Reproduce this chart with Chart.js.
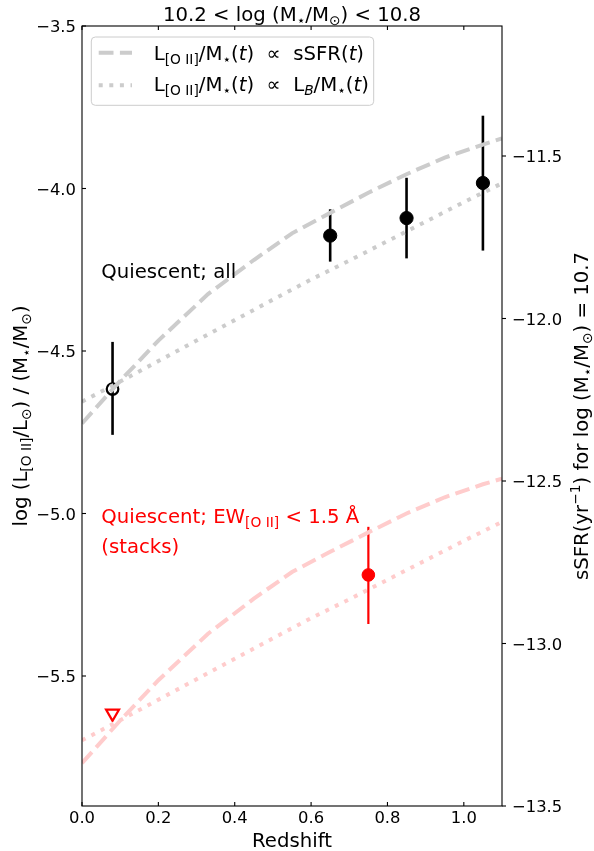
<!doctype html>
<html lang="en">
<head>
<meta charset="utf-8" />
<script src="https://cdn.jsdelivr.net/npm/chart.js@4/dist/chart.umd.min.js"></script>
<style>
  html, body { margin: 0; padding: 0; background: #ffffff; }
  canvas { display: block; }
</style>
</head>
<body>
<canvas id="chart" width="594" height="851"></canvas>
<script>
// --- data ---
const lowZPoint = [0.08];
const lowZValue = [-4.617];
const lowZLower = [-4.758];
const lowZUpper = [-4.472];

const allZ = [0.65, 0.85, 1.05];
const allValue = [-4.145, -4.091, -3.983];
const allLower = [-4.225, -4.215, -4.191];
const allUpper = [-4.064, -3.967, -3.776];

const stackZ = [0.75];
const stackValue = [-5.189];
const stackLower = [-5.340];
const stackUpper = [-5.041];

const limitZ = [0.08];
const limitValue = [-5.615];

const modelZ = [0, 0.1, 0.2, 0.33, 0.45, 0.55, 0.65, 0.75, 0.85, 0.95, 1.05, 1.1];
const ssfrAll = [-4.723, -4.592, -4.468, -4.325, -4.220, -4.138, -4.075, -4.013, -3.956, -3.905, -3.865, -3.846];
const ssfrStacks = [-5.768, -5.637, -5.513, -5.370, -5.262, -5.180, -5.118, -5.058, -5.000, -4.950, -4.910, -4.893];

const lbZ = [0, 0.1, 0.2, 0.3, 0.4, 0.5, 0.6, 0.7, 0.8, 0.9, 1.0, 1.1];
const lbAll = [-4.656, -4.594, -4.531, -4.468, -4.405, -4.342, -4.280, -4.222, -4.162, -4.102, -4.042, -3.984];
const lbStacks = [-5.698, -5.636, -5.573, -5.510, -5.447, -5.384, -5.322, -5.264, -5.204, -5.144, -5.084, -5.026];

const xTickStep = 0.2;
const yTickStep = 0.5;

const FONT = '"DejaVu Sans", sans-serif';
const GREY = 'rgb(204,204,204)';
const PINK = 'rgb(255,204,204)';
const DASH = [14.8, 6.4];
const DOT = [4, 6.6];

const pts = (xs, ys) => xs.map((x, i) => ({ x, y: ys[i] }));
const fmt = v => v.toFixed(1).replace('-', '\u2212');

// draws a list of text runs with sub/superscripts
function drawRich(ctx, parts, x, y, size, align, color) {
  const items = parts.map(p => {
    const s = (p.sub || p.sup) ? size * 0.7 : size;
    const font = (p.it ? 'italic ' : '') + s + 'px ' + FONT;
    ctx.font = font;
    return { t: p.t, font, w: ctx.measureText(p.t).width, dy: p.sub ? size * 0.2 : p.sup ? -size * 0.42 : 0 };
  });
  const total = items.reduce((a, b) => a + b.w, 0);
  let cx = align === 'center' ? x - total / 2 : align === 'right' ? x - total : x;
  ctx.fillStyle = color || '#000';
  ctx.textAlign = 'left';
  ctx.textBaseline = 'alphabetic';
  items.forEach(it => {
    ctx.font = it.font;
    ctx.fillText(it.t, cx, y + it.dy);
    cx += it.w;
  });
}

const T = t => ({ t });
const SUB = t => ({ t, sub: true });
const SUP = t => ({ t, sup: true });
const IT = t => ({ t, it: true });

const errorBars = {
  id: 'errorBars',
  afterDatasetDraw(chart, args) {
    if (args.index !== 3) return;
    const { ctx, scales: { x, y } } = chart;
    const draw = (zs, lo, hi, color, w) => {
      ctx.save();
      ctx.strokeStyle = color;
      ctx.lineWidth = w;
      zs.forEach((z, i) => {
        const px = x.getPixelForValue(z);
        ctx.beginPath();
        ctx.moveTo(px, y.getPixelForValue(lo[i]));
        ctx.lineTo(px, y.getPixelForValue(hi[i]));
        ctx.stroke();
      });
      ctx.restore();
    };
    draw(lowZPoint, lowZLower, lowZUpper, '#000', 2.6);
    draw(allZ, allLower, allUpper, '#000', 2.6);
    draw(stackZ, stackLower, stackUpper, '#ff0000', 2.2);
  }
};

const decorations = {
  id: 'decorations',
  afterDraw(chart) {
    const { ctx, chartArea: a, scales } = chart;
    const { x, y, y2 } = scales;
    ctx.save();

    // frame
    ctx.strokeStyle = '#000';
    ctx.lineWidth = 1.1;
    ctx.strokeRect(a.left, a.top, a.right - a.left, a.bottom - a.top);

    // ticks + labels
    ctx.lineWidth = 1.1;
    ctx.font = '16.4px ' + FONT;
    ctx.fillStyle = '#000';
    x.ticks.forEach(t => {
      if (t.value < x.min || t.value > x.max) return;
      const px = x.getPixelForValue(t.value);
      ctx.beginPath();
      ctx.moveTo(px, a.bottom); ctx.lineTo(px, a.bottom - 4);
      ctx.moveTo(px, a.top); ctx.lineTo(px, a.top + 4);
      ctx.stroke();
      ctx.textAlign = 'center';
      ctx.textBaseline = 'alphabetic';
      ctx.fillText(fmt(t.value), px, a.bottom + 17);
    });
    y.ticks.forEach(t => {
      if (t.value < y.min - 1e-9 || t.value > y.max + 1e-9) return;
      const py = y.getPixelForValue(t.value);
      ctx.beginPath();
      ctx.moveTo(a.left, py); ctx.lineTo(a.left + 4, py);
      ctx.stroke();
      ctx.textAlign = 'right';
      ctx.textBaseline = 'alphabetic';
      ctx.fillText(fmt(t.value), a.left - 6, py + 6);
    });
    y2.ticks.forEach(t => {
      if (t.value < y2.min - 1e-9 || t.value > y2.max + 1e-9) return;
      const py = y2.getPixelForValue(t.value);
      ctx.beginPath();
      ctx.moveTo(a.right, py); ctx.lineTo(a.right + 4, py);
      ctx.stroke();
      ctx.textAlign = 'left';
      ctx.textBaseline = 'alphabetic';
      ctx.fillText(fmt(t.value), a.right + 10, py + 6);
    });

    const big = 19.7;
    const cxPlot = (a.left + a.right) / 2;
    const cyPlot = (a.top + a.bottom) / 2;

    // title and axis titles
    drawRich(ctx, [T('10.2 < log (M'), SUB('\u22c6'), T('/M'), SUB('\u2299'), T(') < 10.8')], cxPlot, 21, big, 'center');
    drawRich(ctx, [T('Redshift')], cxPlot, 847, big, 'center');

    ctx.save();
    ctx.translate(27, cyPlot);
    ctx.rotate(-Math.PI / 2);
    drawRich(ctx, [T('log (L'), SUB('[O II]'), T('/L'), SUB('\u2299'), T(') / (M'), SUB('\u22c6'), T('/M'), SUB('\u2299'), T(')')], 0, 0, big, 'center');
    ctx.restore();

    ctx.save();
    ctx.translate(588, cyPlot);
    ctx.rotate(-Math.PI / 2);
    drawRich(ctx, [T('sSFR(yr'), SUP('\u22121'), T(') for log (M'), SUB('\u22c6'), T('/M'), SUB('\u2299'), T(') = 10.7')], 0, 0, big, 'center');
    ctx.restore();

    // annotations
    drawRich(ctx, [T('Quiescent; all')], 101.3, 277.7, big, 'left', '#000');
    drawRich(ctx, [T('Quiescent; EW'), SUB('[O II]'), T(' < 1.5 \u00c5')], 101.3, 523.3, big, 'left', '#ff0000');
    drawRich(ctx, [T('(stacks)')], 101.3, 552.7, big, 'left', '#ff0000');

    // legend
    const lx = 91.3, ly = 37, lw = 282.4, lh = 68.3, r = 4;
    ctx.beginPath();
    ctx.moveTo(lx + r, ly);
    ctx.arcTo(lx + lw, ly, lx + lw, ly + lh, r);
    ctx.arcTo(lx + lw, ly + lh, lx, ly + lh, r);
    ctx.arcTo(lx, ly + lh, lx, ly, r);
    ctx.arcTo(lx, ly, lx + lw, ly, r);
    ctx.closePath();
    ctx.fillStyle = 'rgba(255,255,255,0.8)';
    ctx.fill();
    ctx.strokeStyle = '#cccccc';
    ctx.lineWidth = 1;
    ctx.stroke();

    ctx.strokeStyle = GREY;
    ctx.lineWidth = 4;
    ctx.setLineDash(DASH);
    ctx.beginPath(); ctx.moveTo(98.7, 52.7); ctx.lineTo(132, 52.7); ctx.stroke();
    ctx.setLineDash(DOT);
    ctx.beginPath(); ctx.moveTo(98.7, 85.3); ctx.lineTo(132, 85.3); ctx.stroke();
    ctx.setLineDash([]);

    const prefix = [T('L'), SUB('[O II]'), T('/M'), SUB('\u22c6'), T('('), IT('t'), T(')  \u221d  ')];
    drawRich(ctx, prefix.concat([T('sSFR('), IT('t'), T(')')]), 153.7, 60.3, big, 'left');
    drawRich(ctx, prefix.concat([T('L'), { t: 'B', sub: true, it: true }, T('/M'), SUB('\u22c6'), T('('), IT('t'), T(')')]), 153.7, 91.3, big, 'left');

    ctx.restore();
  }
};

const lineBase = { showLine: true, pointRadius: 0, borderWidth: 4, fill: false, tension: 0, borderCapStyle: 'butt' };

new Chart(document.getElementById('chart'), {
  type: 'scatter',
  data: {
    datasets: [
      { ...lineBase, data: pts(modelZ, ssfrAll), borderColor: GREY, borderDash: DASH },
      { ...lineBase, data: pts(lbZ, lbAll), borderColor: GREY, borderDash: DOT },
      { ...lineBase, data: pts(modelZ, ssfrStacks), borderColor: PINK, borderDash: DASH },
      { ...lineBase, data: pts(lbZ, lbStacks), borderColor: PINK, borderDash: DOT },
      { data: pts(lowZPoint, lowZValue), pointRadius: 5.8, borderWidth: 2.2, backgroundColor: '#ffffff', borderColor: '#000000' },
      { data: pts(allZ, allValue), pointRadius: 6.6, borderWidth: 1, backgroundColor: '#000000', borderColor: '#000000' },
      { data: pts(stackZ, stackValue), pointRadius: 6.3, borderWidth: 1, backgroundColor: '#ff0000', borderColor: '#ff0000' },
      { data: pts(limitZ, limitValue), pointStyle: 'triangle', rotation: 180, pointRadius: 7.5, borderWidth: 2.2, backgroundColor: '#ffffff', borderColor: '#ff0000' }
    ]
  },
  options: {
    responsive: false,
    animation: false,
    devicePixelRatio: 1,
    layout: { padding: { top: 26, left: 0, right: 0, bottom: 0 } },
    plugins: { legend: { display: false }, tooltip: { enabled: false } },
    scales: {
      x: {
        type: 'linear', position: 'bottom', min: 0, max: 1.1,
        ticks: { stepSize: xTickStep, display: false, includeBounds: false },
        grid: { display: false, drawTicks: false }, border: { display: false },
        afterFit(s) { s.height = 45; }
      },
      y: {
        type: 'linear', position: 'left', min: -5.9, max: -3.5,
        ticks: { stepSize: yTickStep, display: false, includeBounds: false },
        grid: { display: false, drawTicks: false }, border: { display: false },
        afterFit(s) { s.width = 82; }
      },
      y2: {
        type: 'linear', position: 'right', min: -13.5, max: -11.1,
        ticks: { stepSize: yTickStep, display: false, includeBounds: false },
        grid: { display: false, drawTicks: false }, border: { display: false },
        afterFit(s) { s.width = 92; }
      }
    }
  },
  plugins: [errorBars, decorations]
});
</script>
</body>
</html>
